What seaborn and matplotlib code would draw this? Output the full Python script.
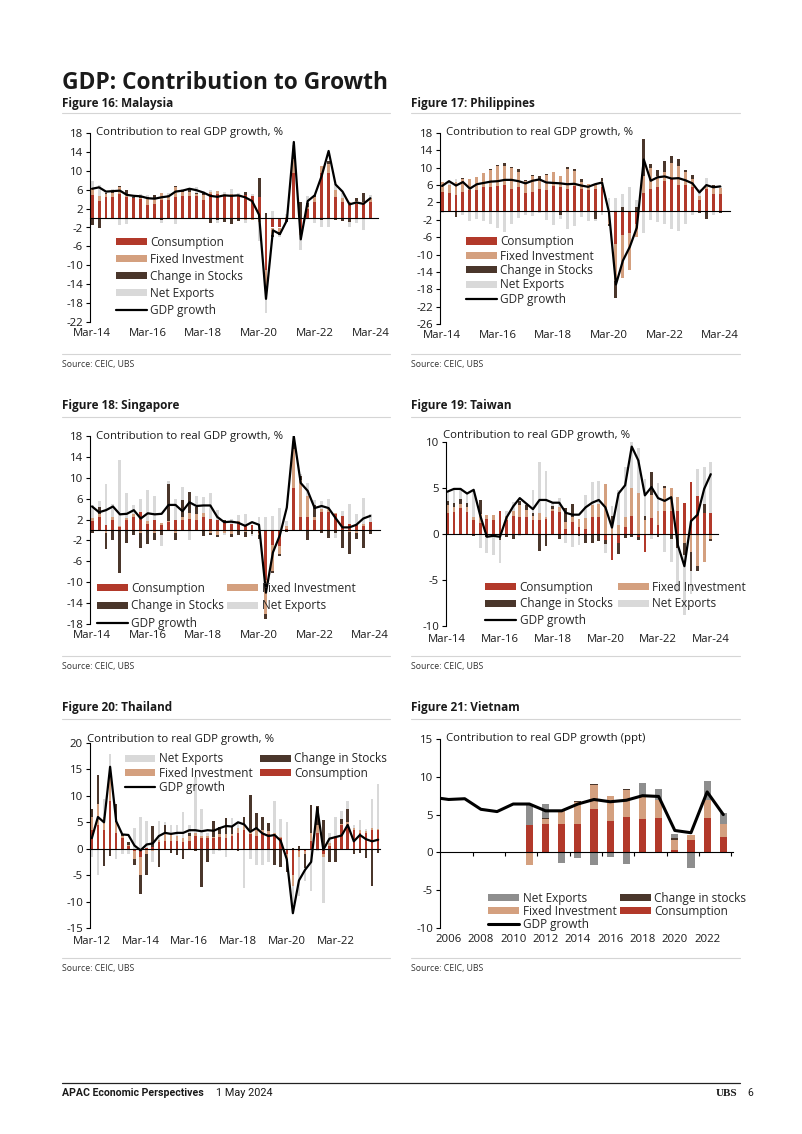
import numpy as np
import matplotlib
matplotlib.use("Agg")
import matplotlib.pyplot as plt
from matplotlib.lines import Line2D
import seaborn as sns

# =========================
# Dados
# =========================

q_labels_14 = ['Mar-14', 'Mar-16', 'Mar-18', 'Mar-20', 'Mar-22', 'Mar-24']
q_labels_12 = ['Mar-12', 'Mar-14', 'Mar-16', 'Mar-18', 'Mar-20', 'Mar-22']

# Malaysia, Mar-14 .. Mar-24
my_gdp = [6.2, 6.5, 5.6, 5.7, 5.8, 4.9, 4.7, 4.6, 4.2, 4.1, 4.4, 4.6, 5.6, 5.8, 6.2, 5.9,
          5.4, 4.7, 4.5, 4.8, 4.7, 4.8, 4.4, 3.6, 0.7, -17.1, -2.6, -3.4, -0.5, 16.1, -4.5,
          3.6, 4.8, 8.9, 14.2, 7.1, 5.6, 2.9, 3.3, 3.0, 4.2]
my_cons = [4.8, 3.6, 4.5, 4.5, 5.0, 4.5, 4.3, 4.0, 2.8, 3.0, 3.8, 3.9, 4.5, 4.6, 4.6, 4.6,
           3.9, 5.0, 5.0, 4.6, 4.7, 4.8, 4.8, 4.6, 4.4, -11.0, -2.0, -2.0, -0.5, 9.5, -2.5,
           2.0, 3.5, 9.5, 9.5, 4.5, 3.5, 2.8, 3.0, 3.0, 3.5]
my_inv = [1.5, 1.0, 0.5, 0.8, 1.5, 0.5, -0.2, 0.2, 1.2, 1.3, 1.5, 1.0, 2.0, 1.0, 1.0, 0.5,
          1.0, 0.5, 0.8, 0.5, 0.3, 0.0, -0.5, -0.5, -0.8, -5.5, -1.5, -1.0, 0.3, 3.0, -1.0,
          0.3, 1.0, 1.5, 2.0, 1.5, 0.8, 0.5, 0.7, 0.5, 0.8]
my_stk = [-1.5, -2.2, 0.3, 0.3, 0.3, 1.0, 0.2, 0.3, 0.5, 0.5, -0.5, -0.3, 0.2, 0.3, 0.3, 0.2,
          0.3, -1.0, -0.5, -0.8, -1.2, -0.6, 0.8, 0.0, 4.0, 1.0, -0.5, -0.5, -0.3, 1.0, 3.5,
          0.8, 0.3, -0.5, 0.5, -0.5, -0.7, -0.8, 0.5, 1.8, -0.3]
my_nx = [1.5, 2.5, 0.5, 0.5, -1.5, -1.2, 0.3, 0.5, 0.3, -0.3, -0.5, 0.3, -1.2, 0.3, 0.5, 1.3,
         0.5, 0.5, -0.6, 0.5, 1.2, 0.6, -0.6, 0.5, -4.0, -3.5, 1.5, -0.5, 0.5, 2.0, -3.3,
         1.5, -1.0, -1.5, -2.0, 1.2, 1.0, -1.0, -1.0, -2.5, 0.5]

# Philippines
ph_gdp = [5.8, 6.9, 5.9, 6.7, 5.2, 6.2, 6.5, 6.8, 6.9, 7.2, 7.2, 6.9, 6.4, 7.0, 7.3, 6.6,
          6.5, 6.4, 6.2, 6.3, 5.9, 5.6, 6.2, 6.6, -0.3, -16.9, -11.4, -8.2, -3.8, 11.9, 7.0,
          7.8, 8.0, 7.5, 7.6, 7.1, 6.4, 4.3, 6.0, 5.5, 5.7]
ph_cons = [4.3, 4.2, 3.8, 4.5, 4.8, 4.8, 5.5, 5.5, 5.8, 6.0, 5.0, 5.5, 4.2, 4.5, 5.0, 4.8,
           5.8, 5.5, 5.0, 5.8, 5.0, 4.8, 5.0, 5.5, 0.0, -7.5, -5.5, -5.0, -3.0, 4.2, 5.0,
           5.5, 7.0, 7.5, 6.0, 6.0, 5.5, 2.5, 5.0, 4.0, 3.9]
ph_inv = [2.3, 1.8, 2.8, 3.0, 2.5, 3.0, 3.2, 4.0, 4.5, 4.5, 5.0, 3.5, 2.8, 3.5, 2.5, 3.5,
          3.2, 2.5, 4.8, 3.5, 1.8, 1.5, 1.0, 1.5, -3.0, -8.5, -10.0, -8.5, -3.0, 4.0, 5.0,
          2.5, 2.0, 3.5, 4.5, 3.0, 2.0, 1.0, 0.5, 1.5, 1.5]
ph_stk = [0.2, 0.1, -1.3, 0.2, 0.2, 0.1, 0.1, 0.3, 0.3, 0.5, 0.2, 0.8, 0.2, 0.3, 0.5, 0.2,
          -0.3, -1.0, 0.4, 0.3, 0.5, -0.2, -1.8, 0.6, -0.5, -4.0, 1.0, 0.0, 1.0, 8.5, 0.8,
          1.5, 2.5, 1.8, 1.5, 0.5, 0.8, -0.5, -1.8, 0.6, -0.5]
ph_nx = [-0.5, 0.8, 0.8, -1.0, -2.3, -1.7, -2.2, -3.0, -3.8, -4.8, -3.0, -1.5, -1.0, -1.2, -0.5, -2.0,
         -2.8, -0.8, -4.0, -3.5, -1.3, -2.0, -0.5, -1.0, 3.0, 3.0, 3.0, 5.5, 1.5, -5.0, -2.0,
         -2.5, -3.0, -4.0, -4.5, -3.0, -1.0, 1.5, 2.2, -0.8, 0.5]

# Singapore
sg_gdp = [4.5, 3.4, 3.8, 4.5, 3.0, 3.1, 3.8, 2.2, 3.2, 3.0, 3.1, 4.8, 4.8, 3.6, 5.3, 4.6,
          4.7, 4.7, 2.5, 1.5, 1.6, 1.4, 0.8, 1.5, 1.0, -12.0, -4.3, -1.0, 4.3, 18.0, 9.0,
          7.5, 4.2, 4.6, 4.2, 2.3, 0.5, 0.5, 1.0, 2.2, 2.7]
sg_cons = [1.8, 2.5, 1.0, 2.0, 0.5, 2.0, 2.5, 3.5, 1.2, 2.0, 1.0, 1.5, 2.0, 2.0, 2.2, 2.0,
           2.5, 2.2, 2.0, 1.5, 1.2, 1.5, 0.8, 1.0, -0.5, -9.5, -2.8, -3.0, 0.2, 8.0, 2.5,
           2.5, 2.0, 3.5, 3.5, 3.0, 2.7, 1.2, 1.0, 0.8, 1.5]
sg_inv = [0.5, 0.5, -0.5, 0.5, 0.3, 0.3, 0.5, -0.5, 0.5, -0.5, 0.3, 0.3, -0.5, 0.5, 1.0, 1.0,
          0.8, -0.5, -1.0, -0.5, -0.8, 0.2, -0.3, -0.2, -0.5, -6.5, -5.0, -1.5, 0.5, 7.5, 7.0,
          4.0, 0.5, 0.6, 0.5, 0.3, 0.0, -0.3, -0.5, 0.3, 0.0]
sg_stk = [-0.5, 1.5, -3.2, -2.0, -8.3, -2.4, -1.0, -2.9, -2.7, -1.5, -1.0, 7.0, -1.5, 3.2, 4.0, 1.5,
          -1.2, -0.5, -0.3, 0.5, -0.5, -1.0, -1.0, -0.5, -0.8, -1.0, -0.5, -0.5, -0.3, 1.0, 0.8,
          -2.0, 2.2, -0.5, -1.5, -0.5, -3.5, -4.2, -1.3, -3.5, -0.8]
sg_nx = [2.5, 1.0, 7.8, 2.5, 12.7, 4.8, 1.8, 2.5, 6.0, 4.5, -2.0, 0.5, 4.0, 2.5, -2.0, 2.0,
         3.0, 4.8, 1.8, -0.5, 1.0, 1.2, 2.3, -0.5, 2.5, 2.5, 2.7, 4.2, 1.0, 0.5, 0.5,
         2.5, 1.0, 1.5, 2.0, -1.0, 1.0, 3.8, 2.0, 5.0, 1.5]

# Taiwan
tw_gdp = [4.6, 4.9, 4.9, 4.4, 4.8, 2.0, -0.3, -0.2, -0.3, 1.8, 3.0, 3.9, 3.3, 2.7, 3.7, 3.7,
          3.4, 3.4, 2.3, 2.1, 2.1, 2.9, 3.4, 3.7, 2.9, 0.7, 4.4, 5.3, 9.5, 8.0, 4.2, 5.1,
          3.9, 3.6, 4.0, -1.2, -3.5, 1.4, 2.1, 4.9, 6.5]
tw_cons = [2.3, 2.4, 2.8, 2.4, 1.5, 1.2, 1.6, 1.5, 2.5, 1.5, 2.0, 1.8, 1.8, 1.5, 1.5, 1.6,
           2.5, 2.4, 0.5, 1.3, 0.8, 0.5, 1.8, 1.8, -0.6, -2.8, -1.0, 0.8, 2.0, -0.3, -2.0,
           1.7, 1.0, 2.5, 2.5, 2.5, 3.4, 5.7, 4.1, 2.3, 2.3]
tw_inv = [0.8, 0.5, 0.5, 0.5, 0.3, 1.0, 0.5, 0.6, -0.3, 0.5, 0.5, 1.3, 0.8, 0.5, 0.8, 0.3,
          0.2, 0.5, 0.8, 0.5, 0.8, 1.2, 1.3, 1.5, 5.4, 1.0, 1.0, 1.0, 3.0, 4.5, 1.5,
          2.5, 1.5, 2.5, 2.5, 1.5, -1.0, -2.0, -3.5, -3.0, -0.5]
tw_stk = [0.5, 0.5, 0.5, 0.5, -0.2, 1.5, -0.3, -0.2, -0.3, -0.3, -0.5, 0.5, 0.5, 0.3, -1.8, -1.3,
          0.3, -0.5, 1.5, 1.5, -0.2, -1.0, -1.0, -0.8, -0.5, 1.0, -1.2, -0.4, -0.3, -0.3, 0.5,
          2.5, -0.3, 0.2, -0.5, -1.5, -1.3, -2.0, -0.5, 1.0, -0.3]
tw_nx = [1.0, 1.5, 1.2, 1.0, 3.0, -1.5, -1.8, -2.1, -2.5, 0.5, 1.0, -0.2, 0.3, 2.5, 5.5, 5.0,
         0.5, 1.0, -1.0, -1.4, -1.0, 2.5, 2.5, 2.5, -1.0, 1.0, 3.8, 5.5, 5.0, 4.8, 4.0,
         -0.5, 3.0, -2.0, -2.5, -4.8, -6.5, -2.5, 3.0, 4.0, 5.5]

# Thailand, Mar-12 .. Dec-23
th_gdp = [2.0, 6.0, 5.0, 15.5, 5.2, 2.7, 2.6, 0.6, -0.3, 0.8, 1.0, 2.4, 3.0, 2.8, 3.0, 3.0,
          3.5, 3.5, 3.3, 3.5, 3.4, 3.9, 4.3, 4.2, 5.0, 4.6, 3.2, 3.9, 2.9, 2.4, 2.6, 1.5,
          -2.0, -12.2, -6.0, -4.0, -2.5, 7.7, -0.2, 1.9, 2.2, 2.5, 4.5, 1.4, 2.6, 1.8, 1.4, 1.7]
th_cons = [3.5, 4.5, 3.5, 9.0, 3.0, 2.0, 0.5, -0.5, -1.5, 0.2, 0.3, 1.2, 1.5, 1.5, 1.5, 1.2,
           1.5, 2.5, 2.0, 2.0, 2.0, 2.2, 2.0, 2.5, 3.0, 3.5, 2.8, 2.5, 3.0, 2.8, 2.5, 2.0,
           -1.0, -5.0, -0.5, -0.5, 1.5, 3.0, -1.0, 0.5, 2.0, 4.5, 4.5, 3.5, 3.0, 3.0, 3.5, 3.5]
th_inv = [2.5, 4.0, 2.5, 6.0, 2.0, 0.5, 0.2, -1.5, -3.5, -1.0, -0.5, 0.5, 1.5, 1.5, 1.0, 0.8,
          1.0, 0.5, 0.5, 0.5, 0.3, 0.5, 0.8, 0.3, 1.0, 1.0, 0.8, 1.2, 0.5, 0.5, 0.5, 0.2,
          -1.0, -2.0, -1.0, -0.5, 1.5, 1.5, -0.5, 0.5, 0.5, 0.2, 0.5, 0.5, 0.5, 0.3, 0.5, 0.2]
th_stk = [1.5, 5.5, -3.2, -1.3, 3.5, 0.3, 0.5, -1.0, -3.5, -4.0, 4.0, -3.5, 1.5, -0.8, -1.2, -2.0,
          0.5, -0.5, -7.2, -2.5, 3.0, 1.5, 3.0, 1.5, -0.5, 1.5, 6.5, 3.0, 2.5, 1.5, -3.0, -3.5,
          -2.5, 0.2, 0.5, -2.7, 5.3, 3.5, 5.5, -2.5, -2.5, 1.0, 2.5, -1.0, -0.8, -1.8, -7.0, -0.8]
th_nx = [-1.5, -5.0, 3.5, 3.0, -2.0, -1.0, -1.0, 4.0, 6.0, 5.0, -2.0, 3.5, 0.5, 1.5, 2.0, 5.0,
         1.5, 10.5, 5.0, 0.5, -1.0, -0.5, -1.5, 1.5, 1.0, -7.5, -2.0, -3.0, -3.0, -2.5, 6.0, 3.5,
         5.0, -3.5, -7.5, -2.5, -8.0, -0.5, -8.8, 2.0, 3.5, 1.5, 1.5, 0.5, 2.0, 0.5, 5.5, 8.5]

# Vietnam (anual)
vn_years_gdp = list(range(2005, 2024))
vn_gdp = [7.3, 7.0, 7.1, 5.7, 5.4, 6.4, 6.4, 5.5, 5.5, 6.4, 7.0, 6.7, 6.9, 7.5, 7.4, 2.9, 2.6, 8.0, 5.0]
vn_years_bar = list(range(2011, 2024))
vn_cons = [3.6, 3.7, 3.7, 3.8, 5.8, 4.1, 4.7, 4.4, 4.5, 0.3, 1.6, 4.6, 2.0]
vn_inv = [-1.7, 0.7, 1.8, 2.9, 3.1, 3.3, 3.5, 3.0, 2.4, 1.4, 0.7, 2.3, 1.7]
vn_stk = [0.0, 0.1, 0.0, 0.05, 0.15, 0.1, 0.15, 0.0, 0.0, 0.2, 0.0, 0.0, 0.0]
vn_nx = [2.8, 1.9, -1.4, -0.8, -1.7, -0.6, -1.6, 1.8, 1.5, 0.6, -2.0, 2.5, 1.5]
vn_labels = ['2006', '2008', '2010', '2012', '2014', '2016', '2018', '2020', '2022']

# =========================
# Estilo
# =========================
sns.set_theme(style="white")
plt.rcParams['font.family'] = ['Open Sans', 'DejaVu Sans']
plt.rcParams['axes.unicode_minus'] = False

C_CONS = '#b2392a'
C_INV = '#d4a07f'
C_STK = '#4a362b'
C_NX = '#d9d9d9'
C_NX_VN = '#8e8e8e'
TXT = '#1a1a1a'
FS = 8.2

W, H = 802, 1134
fig = plt.figure(figsize=(W / 100, H / 100), dpi=100)


def fx(x):
    return x / W


def fy(y):
    return 1 - y / H


def make_ax(x0, y0, x1, y1):
    return fig.add_axes([fx(x0), fy(y1), fx(x1) - fx(x0), fy(y0) - fy(y1)])


def stacked(ax, x, comps, width):
    pos = np.zeros(len(x))
    neg = np.zeros(len(x))
    for vals, color, label in comps:
        vals = np.asarray(vals, dtype=float)
        bottom = np.where(vals >= 0, pos, neg)
        ax.bar(x, vals, width, bottom=bottom, color=color, label=label, linewidth=0)
        pos += np.clip(vals, 0, None)
        neg += np.clip(vals, None, 0)


def style_ax(ax, ylim, yticks, xticks, xlabels, zero_ticks=None, ylab_x=0.02, ylab_y=1.0,
             ylab='Contribution to real GDP growth, %', xpad=4):
    ax.set_ylim(*ylim)
    ax.set_yticks(yticks)
    ax.set_yticklabels([str(t) for t in yticks])
    for s in ['top', 'right']:
        ax.spines[s].set_visible(False)
    ax.spines['left'].set_color('black')
    ax.spines['left'].set_linewidth(0.8)
    ax.spines['bottom'].set_position(('data', 0))
    ax.spines['bottom'].set_color('black')
    ax.spines['bottom'].set_linewidth(0.8)
    ax.tick_params(axis='y', direction='out', length=3, width=0.8, color='black',
                   labelsize=FS, labelcolor=TXT, pad=2, left=True)
    if zero_ticks is not None:
        ax.set_xticks(zero_ticks)
        ax.tick_params(axis='x', direction='out', length=3, width=0.8, color='black',
                       labelbottom=False, bottom=True)
    else:
        ax.set_xticks([])
    sec = ax.secondary_xaxis('bottom')
    sec.set_xticks(xticks)
    sec.set_xticklabels(xlabels)
    sec.tick_params(length=0, labelsize=FS, labelcolor=TXT, pad=xpad)
    sec.spines['bottom'].set_visible(False)
    ax.text(ylab_x, ylab_y, ylab, transform=ax.transAxes, fontsize=FS, color=TXT,
            va='center', ha='left')
    ax.set_xlabel('')
    ax.set_ylabel('')


def gdp_line(ax, x, y, lw=1.6):
    sns.lineplot(x=x, y=y, ax=ax, color='black', linewidth=lw, label='GDP growth',
                 legend=False)


def quarterly(ax, gdp, cons, inv, stk, nx):
    x = np.arange(len(gdp))
    stacked(ax, x, [(cons, C_CONS, 'Consumption'), (inv, C_INV, 'Fixed Investment'),
                    (stk, C_STK, 'Change in Stocks'), (nx, C_NX, 'Net Exports')], 0.42)
    gdp_line(ax, x, gdp)


def add_legend(ax, order, anchor, ncol=1, spacing=0.3, colsp=0.5):
    h, l = ax.get_legend_handles_labels()
    hd = dict(zip(l, h))
    ax.legend([hd[k] for k in order], order, loc='upper left', bbox_to_anchor=anchor,
              ncol=ncol, frameon=False, fontsize=FS + 0.3, handlelength=2.6,
              handleheight=0.55, labelspacing=spacing, handletextpad=0.3,
              columnspacing=colsp, borderpad=0, borderaxespad=0)


order1 = ['Consumption', 'Fixed Investment', 'Change in Stocks', 'Net Exports', 'GDP growth']
order2 = ['Consumption', 'Change in Stocks', 'GDP growth', 'Fixed Investment', 'Net Exports']

# =========================
# Figure 16: Malaysia
# =========================
ax1 = make_ax(90, 133, 378, 322)
quarterly(ax1, my_gdp, my_cons, my_inv, my_stk, my_nx)
ax1.set_xlim(-0.3, 41.1)
style_ax(ax1, (-22, 18), list(range(-22, 19, 4)), list(range(0, 41, 8)), q_labels_14)
add_legend(ax1, order1, (0.09, 0.455), spacing=0.33)

# =========================
# Figure 17: Philippines
# =========================
ax2 = make_ax(440, 133, 730, 324)
quarterly(ax2, ph_gdp, ph_cons, ph_inv, ph_stk, ph_nx)
ax2.set_xlim(-0.3, 41.4)
style_ax(ax2, (-26, 18), list(range(-26, 19, 4)), list(range(0, 41, 8)), q_labels_14)
add_legend(ax2, order1, (0.09, 0.465), spacing=0.12)

# =========================
# Figure 18: Singapore
# =========================
ax3 = make_ax(90, 436, 380, 624)
quarterly(ax3, sg_gdp, sg_cons, sg_inv, sg_stk, sg_nx)
ax3.set_xlim(-0.3, 41.4)
style_ax(ax3, (-18, 18), list(range(-18, 19, 4)), list(range(0, 41, 8)), q_labels_14)
add_legend(ax3, order2, (0.025, 0.225), ncol=2, spacing=0.4, colsp=0.25)

# =========================
# Figure 19: Taiwan
# =========================
ax4 = make_ax(446, 442, 718, 626)
quarterly(ax4, tw_gdp, tw_cons, tw_inv, tw_stk, tw_nx)
ax4.set_xlim(-0.2, 41.1)
style_ax(ax4, (-10, 10), list(range(-10, 11, 5)), list(range(0, 41, 8)), q_labels_14,
         ylab_x=-0.01, ylab_y=1.035, xpad=6)
add_legend(ax4, order2, (0.145, 0.245), ncol=2, spacing=0.3, colsp=0.45)

# =========================
# Figure 20: Thailand
# =========================
ax5 = make_ax(90, 743, 380, 928)
quarterly(ax5, th_gdp, th_cons, th_inv, th_stk, th_nx)
ax5.set_xlim(-0.3, 47.3)
style_ax(ax5, (-15, 20), list(range(-15, 21, 5)), list(range(0, 41, 8)), q_labels_12,
         ylab_x=-0.01, ylab_y=1.02, xpad=6)
order3 = ['Net Exports', 'Fixed Investment', 'GDP growth', 'Change in Stocks', 'Consumption']
add_legend(ax5, order3, (0.12, 0.95), ncol=2, spacing=0.12, colsp=0.6)

# =========================
# Figure 21: Vietnam
# =========================
ax6 = make_ax(440, 739, 733, 928)
vx = np.array(vn_years_bar)
stacked(ax6, vx, [(vn_cons, C_CONS, 'Consumption'), (vn_inv, C_INV, 'Fixed Investment'),
                  (vn_stk, C_STK, 'Change in stocks'), (vn_nx, C_NX_VN, 'Net Exports')], 0.45)
gdp_line(ax6, np.array(vn_years_gdp), vn_gdp, lw=2.2)
ax6.set_xlim(2005.47, 2023.6)
style_ax(ax6, (-10, 15), list(range(-10, 16, 5)), list(range(2006, 2023, 2)), vn_labels,
         zero_ticks=[y + 0.5 for y in range(2007, 2024, 2)],
         ylab='Contribution to real GDP growth (ppt)')
order4 = ['Net Exports', 'Fixed Investment', 'GDP growth', 'Change in stocks', 'Consumption']
add_legend(ax6, order4, (0.165, 0.19), ncol=2, spacing=0.0, colsp=0.3)

# =========================
# Textos da página
# =========================
fig.text(fx(62), fy(83), 'GDP: Contribution to Growth', fontsize=16.4, fontweight='bold',
         color=TXT, va='center', ha='left')

titles = [('Figure 16: Malaysia', 62, 103), ('Figure 17: Philippines', 411, 103),
          ('Figure 18: Singapore', 62, 406), ('Figure 19: Taiwan', 411, 406),
          ('Figure 20: Thailand', 62, 708), ('Figure 21: Vietnam', 411, 708)]
for t, x, y in titles:
    fig.text(fx(x), fy(y), t, fontsize=8.5, fontweight='bold', color=TXT,
             va='center', ha='left')

for y in [113, 417, 719, 354, 656, 958]:
    for x0, x1 in [(62, 390), (411, 740)]:
        fig.add_artist(Line2D([fx(x0), fx(x1)], [fy(y), fy(y)], transform=fig.transFigure,
                              color='#d5d5d5', linewidth=0.8))

for y in [364, 666, 969]:
    for x in [62, 411]:
        fig.text(fx(x), fy(y), 'Source: CEIC, UBS', fontsize=6.3, color='#333333',
                 va='center', ha='left')

# rodapé
fig.add_artist(Line2D([fx(62), fx(740)], [fy(1083), fy(1083)], transform=fig.transFigure,
                      color='#222222', linewidth=0.9))
fig.text(fx(62), fy(1093), 'APAC Economic Perspectives', fontsize=7.6, fontweight='bold',
         family=['Roboto', 'DejaVu Sans'], color=TXT, va='center', ha='left')
fig.text(fx(216), fy(1093), '1 May 2024', fontsize=7.8,
         family=['Roboto', 'DejaVu Sans'], color=TXT, va='center', ha='left')
fig.text(fx(716), fy(1093), 'UBS', fontsize=8, fontweight='bold',
         family=['Liberation Serif', 'DejaVu Serif'], color=TXT, va='center', ha='left')
fig.text(fx(747), fy(1093), '6', fontsize=7.6,
         family=['Roboto', 'DejaVu Sans'], color=TXT, va='center', ha='left')

fig.savefig('out.png', dpi=100)
